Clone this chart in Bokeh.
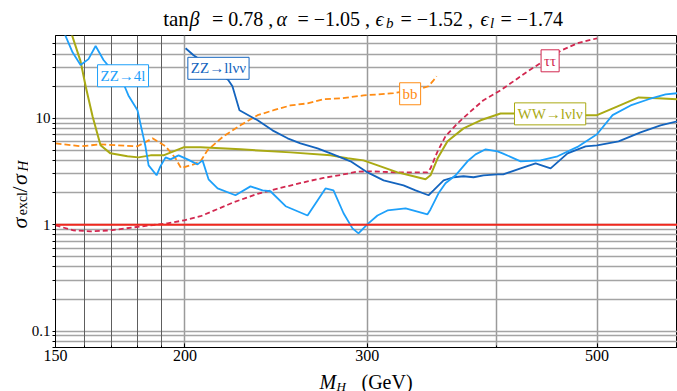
import math
from bokeh.plotting import figure
from bokeh.layouts import column, row
from bokeh.models import (FixedTicker, Grid, Label, CustomJSTickFormatter,
                          Range1d, Span)
from bokeh.embed import file_html
from bokeh.resources import INLINE

# ---------------- data (M_H in GeV, sigma_excl / sigma_H) ----------------
zz4l_mass = [150, 153.0, 155.8, 158.6, 161.4, 164.0, 166.9, 169.5, 172.2, 174.9,
             176.4, 180.0, 181.6, 183.2, 184.5, 187.8, 189.4, 191.6, 193.7, 197.2,
             201.2, 205.7, 208.0, 210.8, 215.1, 223.8, 231.4, 237.7, 241.9, 250.2,
             262.7, 273.4, 278.3, 284.6, 290.3, 294.2, 300.2, 306.9, 313.8, 326.7,
             343.0, 345.3, 351.5, 357.0, 365.1, 374.9, 381.7, 390.3, 400.8, 405.3,
             421.9, 441.0, 458.0, 479.9, 500.0, 517.6, 538.8, 560.8, 582.4, 598.0]
zz4l_ratio = [85, 62.9, 41.7, 31.7, 36.0, 47.8, 35.3, 29.5, 24.3, 20.0,
              16.4, 11.9, 8.04, 5.45, 3.61, 2.91, 3.53, 4.29, 4.11, 4.48,
              4.11, 3.69, 4.02, 2.67, 2.19, 1.89, 2.29, 2.10, 2.06, 1.49,
              1.22, 2.19, 2.10, 1.28, 0.923, 0.828, 1.01, 1.22, 1.36, 1.42,
              1.25, 1.39, 1.97, 2.45, 2.91, 3.94, 4.58, 5.11, 4.89, 4.68,
              3.94, 4.02, 4.39, 5.45, 7.07, 10.7, 13.2, 15.1, 16.8, 17.2]

zz2l2v_mass = [200.3, 203.9, 212.2, 220.4, 222.3, 225.8, 235.1, 243.0, 251.3, 258.6,
               268.6, 276.5, 282.7, 289.1, 300.2, 311.1, 325.2, 334.0, 343.8, 347.6,
               355.5, 363.5, 371.6, 380.0, 388.5, 400.8, 405.9, 421.9, 436.2, 451.0,
               468.3, 487.5, 500.0, 524.6, 550.8, 575.9, 598.0]
zz2l2v_ratio = [45.5, 39.1, 30.1, 22.7, 20.0, 11.9, 9.57, 7.70, 6.48, 5.81,
                5.22, 4.68, 4.29, 3.94, 3.10, 2.61, 2.34, 2.10, 1.89, 2.10,
                2.61, 2.79, 2.85, 2.79, 2.91, 2.97, 2.97, 3.38, 3.77, 3.38,
                4.68, 5.45, 5.57, 6.07, 7.38, 8.58, 9.36]

ww_mass = [153.7, 155.4, 158.6, 160.4, 162.9, 165.8, 169.5, 176.0, 180.4, 185.3,
           190.7, 199.4, 207.1, 226.3, 252.9, 276.5, 287.1, 297.5, 309.0, 320.9,
           332.5, 341.5, 345.3, 350.8, 358.6, 371.6, 386.0, 403.5, 419.0, 485.3,
           500.0, 523.4, 548.4, 572.1, 598.0]
ww_ratio = [90, 62.9, 34.3, 20.0, 10.4, 5.57, 4.68, 4.39, 4.29, 4.48,
            4.48, 5.33, 5.33, 5.11, 4.78, 4.48, 4.20, 4.02, 3.53, 3.10,
            2.85, 2.67, 2.91, 4.20, 6.07, 8.04, 9.57, 11.1, 11.1, 10.7,
            10.7, 12.96, 15.7, 15.4, 15.1]

bb_mass = [150, 158.6, 165.8, 172.2, 180.0, 186.1, 191.6, 195.9, 198.3, 203.9,
           207.1, 210.3, 217.9, 226.3, 235.1, 243.6, 252.9, 262.7, 272.2, 282.7,
           297.5, 318.0, 338.5, 343.8, 347.6, 350.0]
bb_ratio = [5.81, 5.45, 5.69, 5.57, 5.45, 6.48, 5.45, 4.20, 3.40, 3.69,
            3.94, 5.00, 6.77, 8.58, 10.7, 11.9, 13.2, 13.8, 15.1, 15.4,
            16.4, 17.2, 19.1, 20.0, 22.7, 24.8]

tautau_mass = [150, 156.1, 162.1, 169.5, 178.4, 185.3, 192.4, 200.0, 207.1, 215.0,
               222.8, 235.1, 249.0, 262.7, 272.2, 282.7, 293.6, 302.2, 320.9, 343.0,
               345.3, 350.8, 357.0, 366.7, 377.5, 388.5, 403.5, 412.6, 428.5, 445.0,
               462.1, 478.9, 500.0]
tautau_ratio = [0.985, 0.884, 0.865, 0.884, 0.943, 0.985, 1.03, 1.10, 1.20, 1.40,
                1.62, 1.95, 2.25, 2.55, 2.75, 2.93, 3.15, 3.17, 3.10, 3.10,
                3.38, 4.89, 6.77, 8.96, 11.6, 14.8, 18.3, 21.3, 27.6, 35.0,
                43.5, 50.7, 56.5]

threshold = 1.0
x_ticks = [150, 200, 300, 500]
x_minor = [160, 170, 180, 190, 400]
y_ticks = [0.1, 1, 10]
y_minor = [0.07, 0.08, 0.09, 0.2, 0.3, 0.4, 0.5, 0.6, 0.7, 0.8, 0.9,
           2, 3, 4, 5, 6, 7, 8, 9, 20, 30, 40, 50]

SERIF = "'Liberation Serif', 'Times New Roman', serif"
C_LB = "#1ea0fa"
C_DB = "#1464be"
C_OL = "#aaaa14"
C_OR = "#ff8c14"
C_TT = "#d22850"
C_RED = "#f0281e"

# page layout (pixels): title 0..34, plot 34..368, x label 368..391
TH, MH, XH, YW = 34, 334, 23, 28

# ---------------- main plot ----------------
p = figure(width=677 - YW, height=MH, x_axis_type="log", y_axis_type="log",
           x_range=Range1d(150, 598), y_range=Range1d(0.07, 60),
           output_backend="svg", toolbar_location=None,
           min_border_left=55 - YW, min_border_right=0, min_border_top=1,
           min_border_bottom=21)
p.background_fill_color = "white"
p.border_fill_color = "white"
p.outline_line_color = "black"
p.outline_line_width = 1

p.xgrid.ticker = FixedTicker(ticks=[200, 300, 400, 500])
p.xgrid.grid_line_color = "#9a9a9a"
p.xgrid.grid_line_width = 1.5
p.add_layout(Grid(dimension=0, ticker=FixedTicker(ticks=[160, 170, 180, 190]),
                  grid_line_color="#5e5e5e", grid_line_width=1))
p.ygrid.ticker = FixedTicker(ticks=sorted(y_ticks + y_minor))
p.ygrid.grid_line_color = "#a4a4a4"
p.ygrid.grid_line_width = 1.3

p.xaxis.ticker = FixedTicker(ticks=x_ticks, minor_ticks=x_minor)
p.yaxis.ticker = FixedTicker(ticks=y_ticks, minor_ticks=y_minor)
p.xaxis.formatter = CustomJSTickFormatter(code="return String(tick)")
p.yaxis.formatter = CustomJSTickFormatter(code="return String(tick)")
for ax in (p.xaxis[0], p.yaxis[0]):
    ax.axis_line_color = "black"
    ax.axis_line_width = 1
    ax.major_label_text_font = SERIF
    ax.major_label_text_color = "black"
    ax.major_tick_line_color = "black"
    ax.minor_tick_line_color = "black"
p.xaxis.major_label_text_font_size = "16px"
p.yaxis.major_label_text_font_size = "15px"
p.xaxis.major_tick_in = 4
p.xaxis.major_tick_out = 0
p.xaxis.minor_tick_in = 2
p.xaxis.minor_tick_out = 0
p.xaxis.major_label_standoff = 2
p.yaxis.major_tick_in = 0
p.yaxis.major_tick_out = 3
p.yaxis.minor_tick_in = 0
p.yaxis.minor_tick_out = 3
p.yaxis.major_label_standoff = 2

p.add_layout(Span(location=threshold, dimension="width", line_color=C_RED,
                  line_width=2))

p.line(bb_mass, bb_ratio, line_color=C_OR, line_width=1.8, line_dash="6 3")
p.line(tautau_mass, tautau_ratio, line_color=C_TT, line_width=1.8, line_dash="5 3")
p.line(ww_mass, ww_ratio, line_color=C_OL, line_width=2)
p.line(zz2l2v_mass, zz2l2v_ratio, line_color=C_DB, line_width=1.8)
p.line(zz4l_mass, zz4l_ratio, line_color=C_LB, line_width=1.8)

def boxed(text, x, y, color):
    p.add_layout(Label(x=x, y=y, text=text, text_font=SERIF,
                       text_font_size="15px", text_color=color,
                       text_align="center", text_baseline="middle",
                       background_fill_color="white", border_line_color=color,
                       border_line_width=1, padding=3))

boxed("ZZ→4l", 174.3, 25.1, C_LB)
boxed("ZZ→llνν", 215.5, 29.5, C_DB)
boxed("bb", 330.0, 17.0, C_OR)
boxed("ττ", 450.5, 34.7, C_TT)
boxed("WW→lνlν", 450.5, 11.0, C_OL)

# ---------------- text panels (pixel-coordinate canvases) ----------------
def text_panel(w, h):
    f = figure(width=w, height=h, x_range=Range1d(0, w), y_range=Range1d(0, h),
               output_backend="svg", toolbar_location=None,
               x_axis_location=None, y_axis_location=None,
               min_border=0, min_border_left=0, min_border_right=0,
               min_border_top=0, min_border_bottom=0)
    f.xgrid.visible = False
    f.ygrid.visible = False
    f.outline_line_color = None
    f.background_fill_color = "white"
    f.border_fill_color = "white"
    return f

BASE = 0.23  # rendered baseline sits this many em below the anchor

def txt(f, h, text, X, Y, size=20, italic=False, rotated=False):
    # (X, Y): wanted baseline position, Y measured downward from panel top
    d = BASE * size
    if rotated:
        x, y, ang = X - d, h - Y, math.pi / 2
    else:
        x, y, ang = X, h - (Y - d), 0.0
    f.add_layout(Label(x=x, y=y, text=text, text_font=SERIF,
                       text_font_size=f"{size}px",
                       text_font_style="italic" if italic else "normal",
                       text_color="black", text_align="left",
                       text_baseline="alphabetic", angle=ang))

# title
tf = text_panel(677, TH)
txt(tf, TH, "tan", 162.7, 23, size=21)
txt(tf, TH, "β", 189, 23, italic=True)
txt(tf, TH, "= 0.78 ,", 211.5, 23)
txt(tf, TH, "α", 276, 23, italic=True)
txt(tf, TH, "= −1.05 ,", 297, 23)
txt(tf, TH, "ϵ", 375, 23, italic=True)
txt(tf, TH, "b", 385.5, 26, size=15, italic=True)
txt(tf, TH, "= −1.52 ,", 400, 23)
txt(tf, TH, "ϵ", 480, 23, italic=True)
txt(tf, TH, "l", 489.5, 26, size=15, italic=True)
txt(tf, TH, "= −1.74", 500, 23)

# y label (page x 0..28, page y 34..368)
yf = text_panel(YW, MH)
OY = TH
txt(yf, MH, "σ", 24, 240.5 - OY, size=22, italic=True, rotated=True)
txt(yf, MH, "excl", 25.5, 226.5 - OY, size=14, rotated=True)
txt(yf, MH, "/", 24, 202 - OY, size=22, rotated=True)
txt(yf, MH, "σ", 24, 194 - OY, size=22, italic=True, rotated=True)
txt(yf, MH, "H", 25.5, 179.5 - OY, size=15, italic=True, rotated=True)

# x label (page y 368..391)
xf = text_panel(677, XH)
OX = TH + MH
txt(xf, XH, "M", 319, 386 - OX, italic=True)
txt(xf, XH, "H", 336, 388.5 - OX, size=13, italic=True)
txt(xf, XH, "(GeV)", 361, 386 - OX)

layout = column(tf, row(yf, p), xf)
open("out.html", "w").write(file_html(layout, INLINE))
